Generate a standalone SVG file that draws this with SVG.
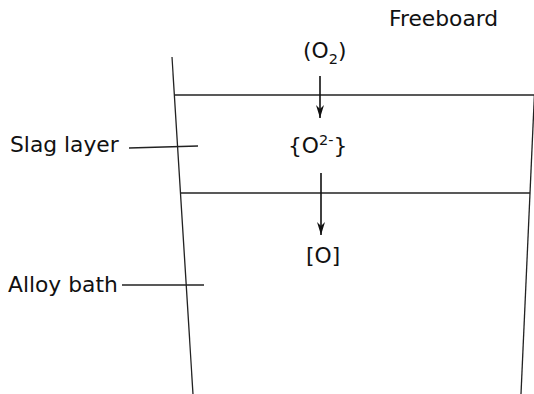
<svg xmlns="http://www.w3.org/2000/svg" width="534" height="394" viewBox="0 0 534 394">
<style>
.t{font-family:"DejaVu Sans",sans-serif;font-size:21.8px;fill:#111}
.s{font-size:14.5px}
.l{stroke:#222;stroke-width:1.3;fill:none}
.a{stroke:#111;stroke-width:1.6;fill:none}
</style>
<defs>
<marker id="ah" viewBox="0 0 10 10" refX="10" refY="5" markerWidth="13" markerHeight="8" markerUnits="userSpaceOnUse" orient="auto" preserveAspectRatio="none">
<path d="M0,0 L10,5 L0,10 L3,5 Z" fill="#111"/>
</marker>
</defs>
<rect width="534" height="394" fill="#fff"/>
<g id="vessel">
<line class="l" x1="172" y1="57" x2="193" y2="394"/>
<line class="l" x1="534.4" y1="95" x2="521" y2="394"/>
<line class="l" x1="175" y1="95" x2="534" y2="95"/>
<line class="l" x1="180" y1="193" x2="530" y2="193"/>
</g>
<g id="freeboard"><text class="t" x="389" y="26">Freeboard</text></g>
<g id="o2"><text class="t" x="303" y="58">(O<tspan class="s" dy="6">2</tspan><tspan dy="-6">)</tspan></text></g>
<g id="o2minus"><text class="t" x="288" y="153">{O<tspan class="s" dy="-8">2-</tspan><tspan dy="8">}</tspan></text></g>
<g id="o"><text class="t" x="306" y="263">[O]</text></g>
<g id="slag"><text class="t" x="10" y="152">Slag layer</text></g>
<g id="alloy"><text class="t" x="8" y="292">Alloy bath</text></g>
<g id="connectors">
<line class="a" x1="320" y1="76" x2="320" y2="118" marker-end="url(#ah)"/>
<line class="a" x1="321" y1="173" x2="321" y2="235" marker-end="url(#ah)"/>
<line class="l" x1="129" y1="148" x2="198" y2="146"/>
<line class="l" x1="122" y1="285" x2="204" y2="285"/>
</g>
</svg>
